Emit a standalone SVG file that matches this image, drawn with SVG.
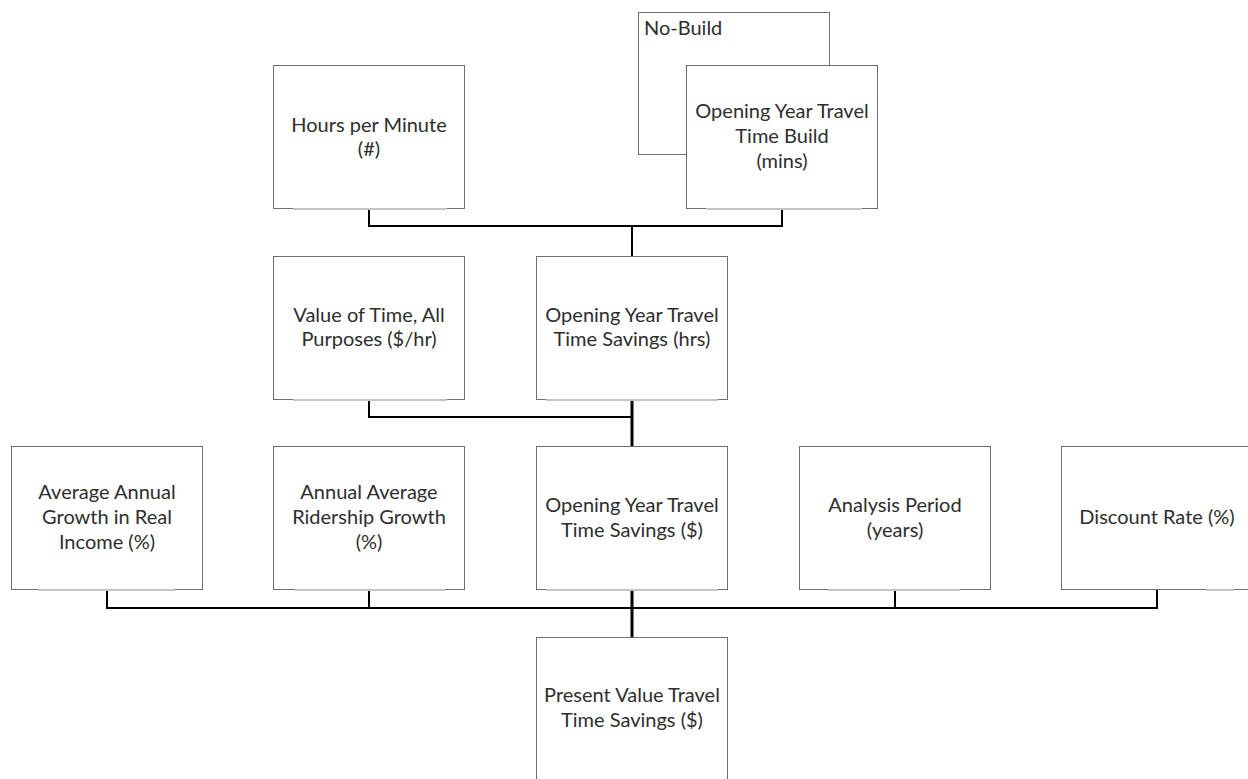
<svg xmlns="http://www.w3.org/2000/svg" width="1248" height="779" viewBox="0 0 1248 779">
<style>
.box{fill:#fff;stroke:#6f6f6f;stroke-width:1}
.sh{stroke:#c4c4c4;stroke-width:2;fill:none}
.t{font-family:Lato,"Liberation Sans",sans-serif;font-size:20px;fill:#2e2e2e;text-anchor:middle}
.c{fill:none;stroke:#000;stroke-width:2}
.k{fill:none;stroke:#000;stroke-width:3}
</style>
<rect width="1248" height="779" fill="#fff"/>
<g id="connectors">
<path class="c" d="M369,208V226H782V208M632,226V257"/>
<path class="c" d="M369,399V417H632"/>
<path class="k" d="M632,399V447"/>
<path class="c" d="M107,590V608H1157V590M369,590V608M895,590V608"/>
<path class="k" d="M632,590V637"/>
</g>
<g id="nobuild">
<rect class="box" x="638.5" y="12.5" width="191" height="142"/>
<text class="t" x="644" y="35" style="text-anchor:start">No-Build</text>
</g>
<g id="build">
<rect class="box" x="686.5" y="65.5" width="191" height="143"/>
<line class="sh" x1="706" y1="209" x2="862" y2="209"/>
<text class="t" x="782" y="118">Opening Year Travel</text>
<text class="t" x="782" y="143">Time Build</text>
<text class="t" x="782" y="168">(mins)</text>
</g>
<g id="hours">
<rect class="box" x="273.5" y="65.5" width="191" height="143"/>
<line class="sh" x1="293" y1="209" x2="447" y2="209"/>
<text class="t" x="369" y="132">Hours per Minute</text>
<text class="t" x="369" y="156">(#)</text>
</g>
<g id="vot">
<rect class="box" x="273.5" y="256.5" width="191" height="143"/>
<line class="sh" x1="293" y1="400" x2="447" y2="400"/>
<text class="t" x="369" y="322">Value of Time, All</text>
<text class="t" x="369" y="346">Purposes ($/hr)</text>
</g>
<g id="hrs">
<rect class="box" x="536.5" y="256.5" width="191" height="143"/>
<line class="sh" x1="546" y1="400" x2="718" y2="400"/>
<text class="t" x="632" y="322">Opening Year Travel</text>
<text class="t" x="632" y="346">Time Savings (hrs)</text>
</g>
<g id="income">
<rect class="box" x="11.5" y="446.5" width="191" height="143"/>
<line class="sh" x1="38" y1="590" x2="175" y2="590"/>
<text class="t" x="107" y="499">Average Annual</text>
<text class="t" x="107" y="524">Growth in Real</text>
<text class="t" x="107" y="549">Income (%)</text>
</g>
<g id="ridership">
<rect class="box" x="273.5" y="446.5" width="191" height="143"/>
<line class="sh" x1="295" y1="590" x2="445" y2="590"/>
<text class="t" x="369" y="499">Annual Average</text>
<text class="t" x="369" y="524">Ridership Growth</text>
<text class="t" x="369" y="549">(%)</text>
</g>
<g id="dollars">
<rect class="box" x="536.5" y="446.5" width="191" height="143"/>
<line class="sh" x1="546" y1="590" x2="718" y2="590"/>
<text class="t" x="632" y="512">Opening Year Travel</text>
<text class="t" x="632" y="537">Time Savings ($)</text>
</g>
<g id="analysis">
<rect class="box" x="799.5" y="446.5" width="191" height="143"/>
<line class="sh" x1="828" y1="590" x2="960" y2="590"/>
<text class="t" x="895" y="512">Analysis Period</text>
<text class="t" x="895" y="537">(years)</text>
</g>
<g id="discount">
<rect class="box" x="1061.5" y="446.5" width="191" height="143"/>
<line class="sh" x1="1206" y1="590" x2="1234" y2="590"/>
<text class="t" x="1157" y="524">Discount Rate (%)</text>
</g>
<g id="present">
<rect class="box" x="536.5" y="637.5" width="191" height="150"/>
<text class="t" x="632" y="702">Present Value Travel</text>
<text class="t" x="632" y="727">Time Savings ($)</text>
</g>
</svg>
